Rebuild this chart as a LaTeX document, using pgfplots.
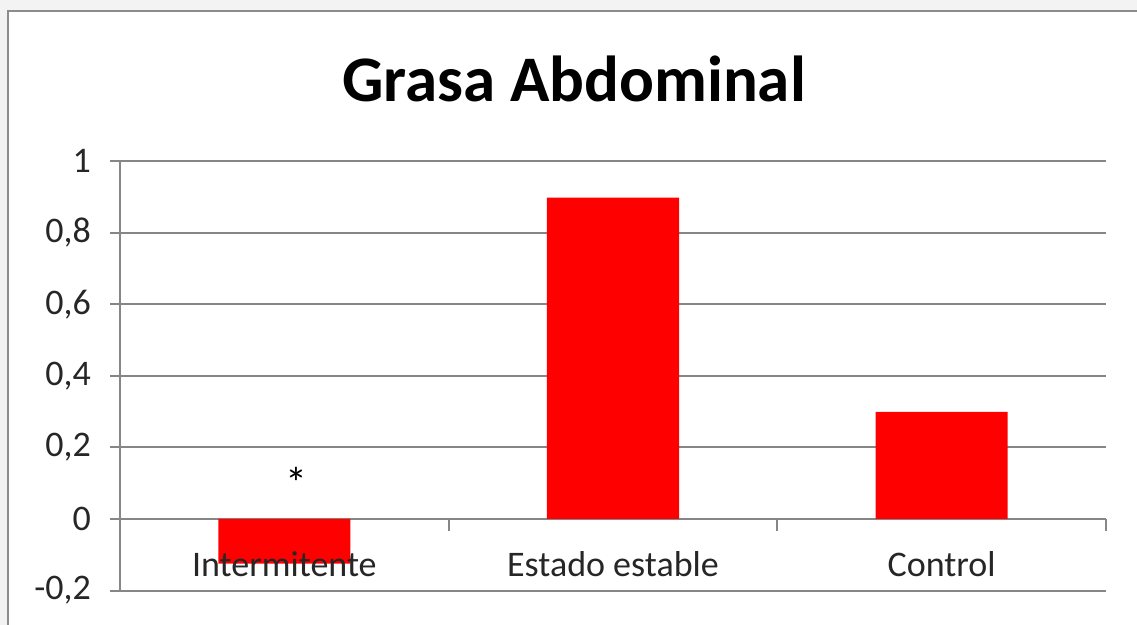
\documentclass[border=0pt]{standalone}
\usepackage{pgfplots}
\pgfplotsset{compat=1.18}
\usepackage{fontspec}
\setmainfont{Carlito}
\definecolor{gridc}{RGB}{134,134,134}
\definecolor{bgc}{RGB}{243,243,243}
\definecolor{borderc}{RGB}{140,140,140}
\definecolor{txt}{RGB}{38,38,38}
\begin{document}
\begin{tikzpicture}[x=1pt,y=1pt]
\useasboundingbox (0,0) rectangle (568.5,312.5);
\fill[bgc] (0,0) rectangle (568.5,312.5);
\fill[white] (3.85,0) rectangle (568.5,307);
\draw[borderc, line width=1pt] (3.85,-1) -- (3.85,307) -- (570,307);
\begin{axis}[
  at={(60pt,17.2pt)}, anchor=south west,
  scale only axis, width=493pt, height=214.8pt,
  xmin=-0.5, xmax=2.5, ymin=-0.2, ymax=1,
  ytick={-0.2,0,0.2,0.4,0.6,0.8,1},
  xtick=\empty,
  axis lines*=left,
  axis line style={draw=gridc, line width=1pt},
  ymajorgrids,
  grid style={draw=gridc, line width=1pt},
  tick align=outside,
  major tick length=5pt,
  ytick style={draw=gridc, line width=1pt},
  tick label style={font=\fontsize{18}{21}\selectfont, text=txt},
  /pgf/number format/fixed,
  /pgf/number format/use comma,
  /pgf/number format/precision=1,
  /pgf/number format/assume math mode=true,
  yticklabel style={xshift=-6pt},
  ybar, bar width=66pt, bar shift=0pt,
  clip=false,
]
\addplot[fill={rgb,255:red,255;green,0;blue,0}, draw=none] coordinates {(0,-0.125) (1,0.898) (2,0.299)};
\draw[gridc, line width=1pt] (axis cs:0.5,0) -- (axis cs:0.5,-0.034);
\draw[gridc, line width=1pt] (axis cs:1.5,0) -- (axis cs:1.5,-0.034);
\draw[gridc, line width=1pt] (axis cs:2.5,0) -- (axis cs:2.5,-0.034);
\node[font=\fontsize{22}{24}\selectfont, text=black] at (axis cs:0.038,0.10) {*};
\node[anchor=base, font=\fontsize{18}{21}\selectfont, text=txt] at (axis cs:0,-0.162) {Intermitente};
\node[anchor=base, font=\fontsize{18}{21}\selectfont, text=txt] at (axis cs:1,-0.162) {Estado estable};
\node[anchor=base, font=\fontsize{18}{21}\selectfont, text=txt] at (axis cs:2,-0.162) {Control};
\end{axis}
\node[anchor=base, font=\bfseries\fontsize{32.5}{39}\selectfont, text=black] at (287,261.5) {Grasa Abdominal};
\end{tikzpicture}
\end{document}
